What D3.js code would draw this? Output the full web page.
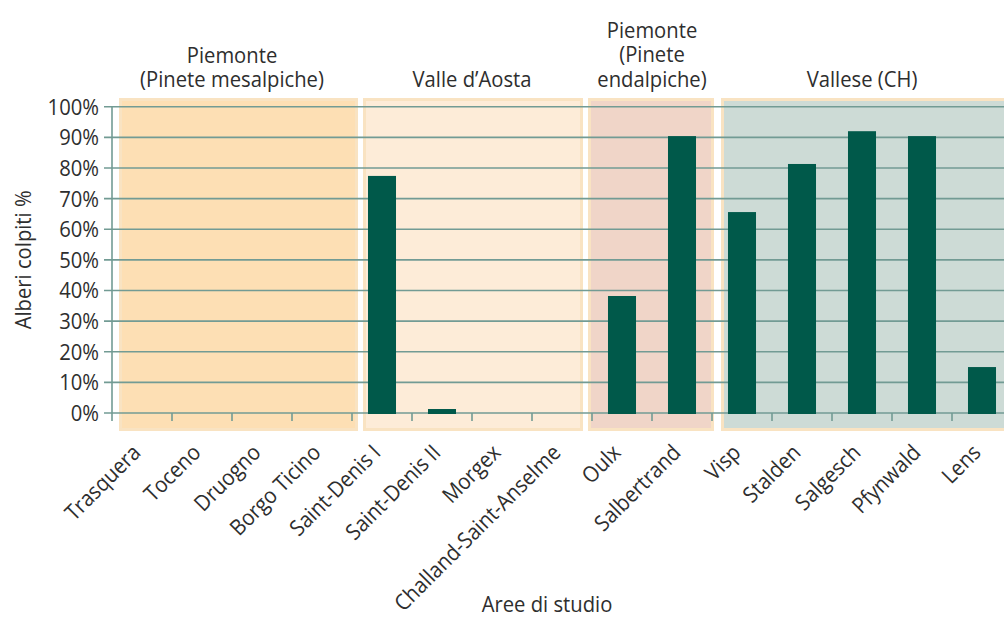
<!DOCTYPE html>
<html>
<head>
<meta charset="utf-8">
<script src="https://cdn.jsdelivr.net/npm/d3@7"></script>
<style>
  html, body { margin: 0; padding: 0; background: #ffffff; }
  svg { display: block; }
  text { font-family: "Open Sans", "Noto Sans", sans-serif; fill: #2e2e2e; }
</style>
</head>
<body>
<svg id="chart" width="1004" height="619"></svg>
<script>
// Study sites (x axis) and share of affected trees (%)
const categories = [
  "Trasquera", "Toceno", "Druogno", "Borgo Ticino", "Saint-Denis I",
  "Saint-Denis II", "Morgex", "Challand-Saint-Anselme", "Oulx", "Salbertrand",
  "Visp", "Stalden", "Salgesch", "Pfynwald", "Lens"
];
const values = [0, 0, 0, 0, 77.4, 1.3, 0, 0, 38.2, 90.4, 65.6, 81.3, 92, 90.4, 15];

const yTicks = [0, 10, 20, 30, 40, 50, 60, 70, 80, 90, 100];

// Geographic groups of sites
const regionTitles = [
  ["Piemonte", "(Pinete mesalpiche)"],
  ["Valle d’Aosta"],
  ["Piemonte", "(Pinete", "endalpiche)"],
  ["Vallese (CH)"]
];
const regionFirst = ["Trasquera", "Saint-Denis I", "Oulx", "Visp"];
const regionLast  = ["Borgo Ticino", "Challand-Saint-Anselme", "Salbertrand", "Lens"];

const yTitle = "Alberi colpiti %";
const xTitle = "Aree di studio";

// ---- layout & style ----
const W = 1004, H = 619;
const plot = { left: 112, right: 1012, top: 106.7, bottom: 413 };
const regionFill = ["#fddfb4", "#fdecd8", "#f0d5c8", "#cddbd6"];
const regionStroke = "#f9e3c2";
const regionPad = [[7, 6], [11, -9], [-4, 2], [9, 20]];   // px insets of the boxes
const boxTop = 98, boxBottom = 431;
const gridColor = "#729b94";
const barColor = "#00594a";
const fontSize = 22;
const squeeze = 0.92;   // horizontal text compression
const lineStep = 24.5;

const svg = d3.select("#chart");

const x = d3.scaleBand().domain(categories).range([plot.left, plot.right]).paddingInner(0).paddingOuter(0);
const y = d3.scaleLinear().domain([0, 100]).range([plot.bottom, plot.top]);
const bw = x.bandwidth();
const barW = bw * 0.467;

function label(parent, tx, ty, str, anchor, rot) {
  const g = parent.append("g")
    .attr("transform", `translate(${tx},${ty})` + (rot ? ` rotate(${rot})` : "") + ` scale(${squeeze},1)`);
  return g.append("text")
    .attr("text-anchor", anchor)
    .attr("font-size", fontSize)
    .text(str);
}

// region boxes
const regions = regionTitles.map((t, i) => ({
  title: t,
  x0: x(regionFirst[i]),
  x1: x(regionLast[i]) + bw,
  fill: regionFill[i],
  pad: regionPad[i]
}));

svg.append("g").selectAll("rect").data(regions).join("rect")
  .attr("x", d => d.x0 + d.pad[0] + 1.5)
  .attr("y", boxTop + 1.5)
  .attr("width", d => (d.x1 + d.pad[1]) - (d.x0 + d.pad[0]) - 3)
  .attr("height", boxBottom - boxTop - 3)
  .attr("fill", d => d.fill)
  .attr("stroke", regionStroke)
  .attr("stroke-width", 3);

// region titles: one text per region, lines as tspans, last line on a common baseline
const titles = svg.append("g");
regions.forEach(r => {
  const cx = (r.x0 + r.x1) / 2;
  const n = r.title.length;
  const t = label(titles, cx, 87 - (n - 1) * lineStep, "", "middle");
  t.selectAll("tspan").data(r.title).join("tspan")
    .attr("x", 0)
    .attr("dy", (d, j) => j === 0 ? 0 : lineStep)
    .text(d => d);
});

// grid lines
svg.append("g").selectAll("line").data(yTicks).join("line")
  .attr("x1", plot.left - 8)
  .attr("x2", W)
  .attr("y1", d => y(d))
  .attr("y2", d => y(d))
  .attr("stroke", gridColor)
  .attr("stroke-width", 1.6);

// y axis line
svg.append("line")
  .attr("x1", plot.left).attr("x2", plot.left)
  .attr("y1", y(100)).attr("y2", plot.bottom + 8)
  .attr("stroke", gridColor).attr("stroke-width", 1.6);

// x ticks at category boundaries
const bounds = categories.map(c => x(c)).concat([x(categories[categories.length - 1]) + bw]);
svg.append("g").selectAll("line").data(bounds.slice(1)).join("line")
  .attr("x1", d => d).attr("x2", d => d)
  .attr("y1", plot.bottom).attr("y2", plot.bottom + 8)
  .attr("stroke", gridColor).attr("stroke-width", 1.6);

// bars
svg.append("g").selectAll("rect").data(categories.map((c, i) => ({ c, v: values[i] }))).join("rect")
  .attr("x", d => x(d.c) + (bw - barW) / 2)
  .attr("width", barW)
  .attr("y", d => y(d.v))
  .attr("height", d => y(0) - y(d.v) + 1)
  .attr("fill", barColor)
  .attr("display", d => d.v > 0 ? null : "none");

// y tick labels
const yl = svg.append("g");
yTicks.forEach(t => {
  label(yl, plot.left - 13, y(t), t + "%", "end").attr("dy", "0.36em");
});

// x tick labels
const xl = svg.append("g");
categories.forEach(c => {
  label(xl, x(c) + bw / 2, 454, c, "end", -45);
});

// axis titles
label(svg, 31, (plot.top + plot.bottom) / 2, yTitle, "middle", -90);
label(svg, (plot.left + x(categories[categories.length - 1]) + bw / 2) / 2, 612, xTitle, "middle");
</script>
</body>
</html>
